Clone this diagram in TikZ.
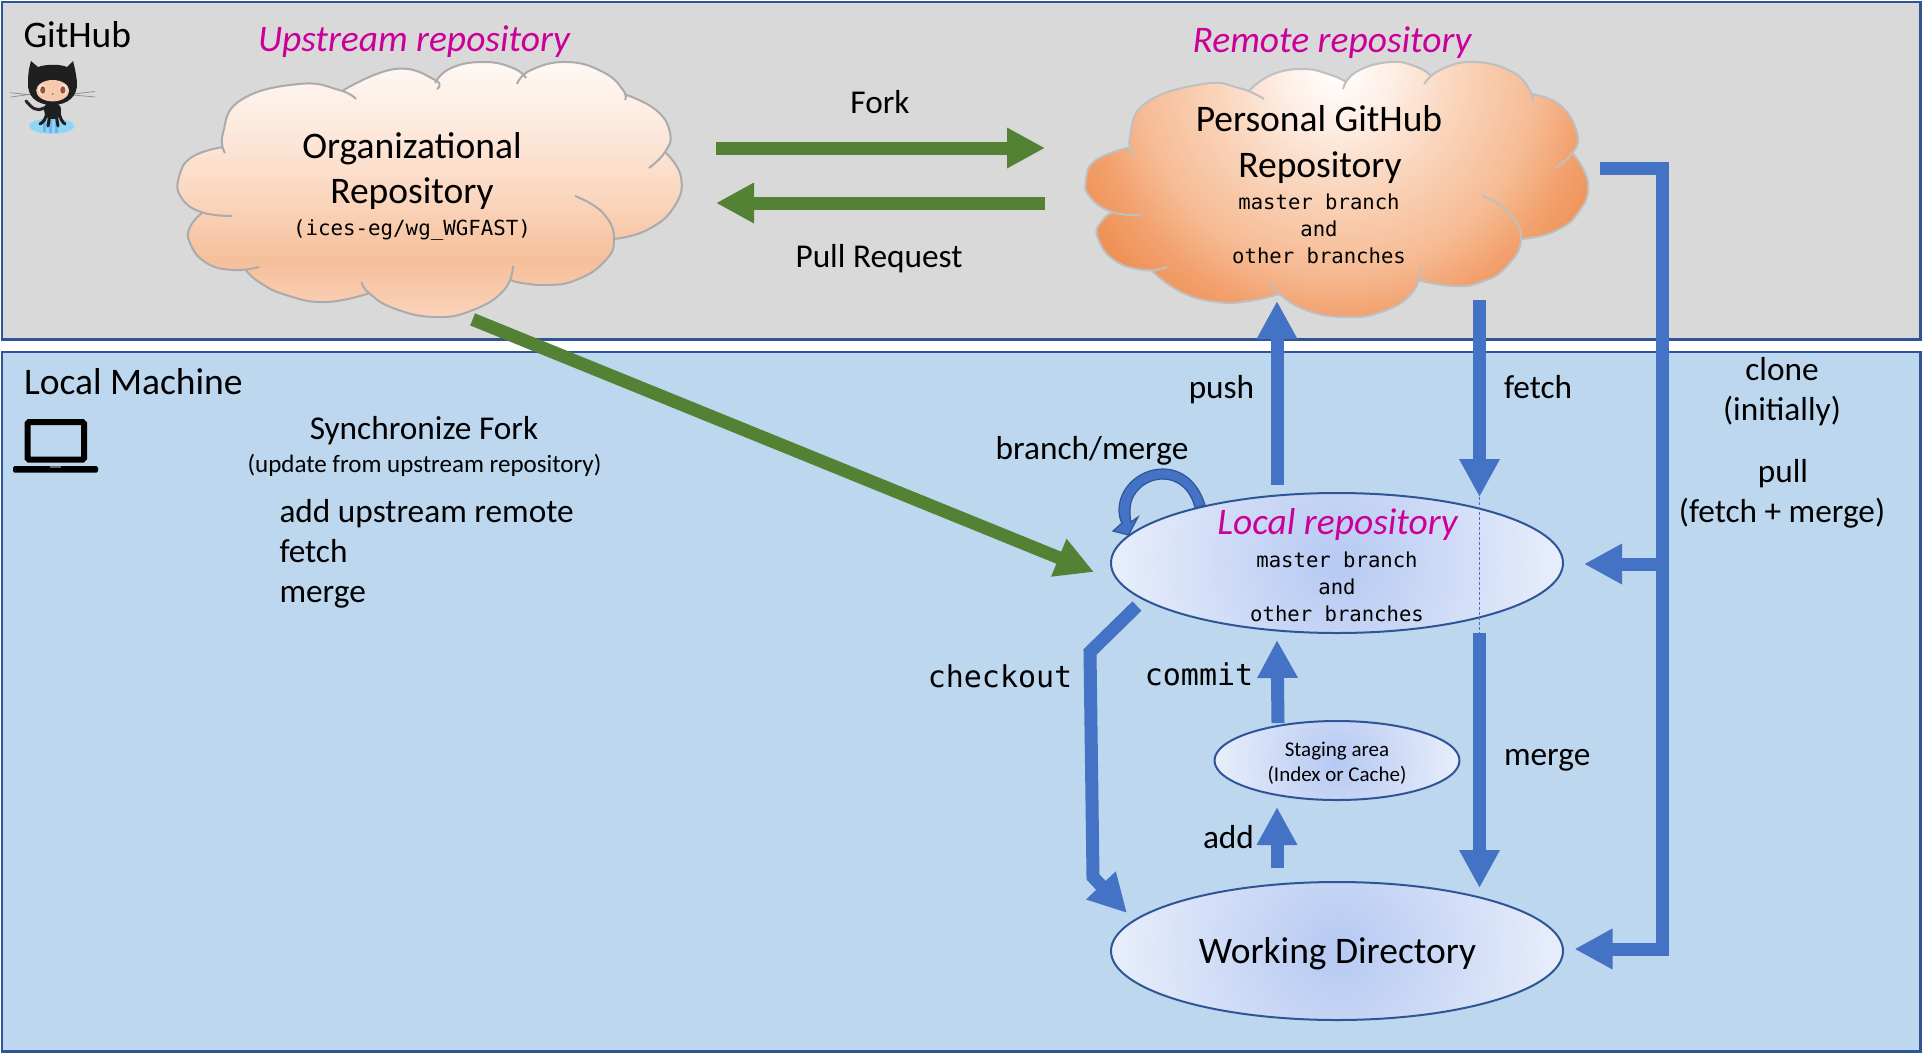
\documentclass[tikz,border=0pt]{standalone}
\usepackage{fontspec}
\setmainfont{Carlito}
\newfontfamily\monof{DejaVu Sans Mono}
\usetikzlibrary{arrows.meta,shapes.geometric,calc}
\definecolor{panelgray}{HTML}{D9D9D9}
\definecolor{panelblue}{HTML}{BDD7EE}
\definecolor{panelline}{HTML}{2F5597}
\definecolor{gitgreen}{HTML}{548235}
\definecolor{gitblue}{HTML}{4472C4}
\definecolor{magentatext}{HTML}{CC0099}
\definecolor{upA}{HTML}{FEF8F4}
\definecolor{upB}{HTML}{FDE9DD}
\definecolor{upC}{HTML}{FBD9C3}
\definecolor{upD}{HTML}{F5BF9A}
\definecolor{upE}{HTML}{FBD3BC}
\definecolor{remA}{HTML}{FFFFFF}
\definecolor{remB}{HTML}{FEF0E8}
\definecolor{remC}{HTML}{FAD5BC}
\definecolor{remD}{HTML}{F6BB94}
\definecolor{remE}{HTML}{F2A06C}
\definecolor{remF}{HTML}{EE8E4F}
\definecolor{ellIn}{HTML}{B6C9F2}
\definecolor{ellOut}{HTML}{E8EEFB}
\definecolor{catface}{HTML}{F4C9AC}
\definecolor{cateye}{HTML}{F5E6DC}
\definecolor{catiris}{HTML}{A0523C}
\definecolor{catwater}{HTML}{8FD6F6}
\definecolor{catstripe}{HTML}{6FB4EC}
\pgfdeclareverticalshading{upshade}{100bp}{color(0bp)=(upE); color(25bp)=(upE); color(36bp)=(upD); color(50bp)=(upC); color(62bp)=(upB); color(75bp)=(upA); color(100bp)=(upA)}
\pgfdeclareradialshading{remshade}{\pgfpoint{0bp}{0bp}}{color(0bp)=(remA); color(4.2bp)=(remB); color(10bp)=(remC); color(16.7bp)=(remD); color(20.8bp)=(remE); color(25bp)=(remF); color(50bp)=(remF)}
\newcommand{\sz}[1]{\fontsize{#1}{#1}\selectfont}
\newcommand{\cloudUp}[1]{%
plot[smooth,tension=.8] coordinates {(225,153)(223,133)(241,100)(299,84)(339,90)(356,99)} #1
plot[smooth,tension=.8] coordinates {(342,91)(395,69)(435,80)(437,89)} #1
plot[smooth,tension=.8] coordinates {(435,83)(451,68)(484,62)(513,68)(526,78)} #1
plot[smooth,tension=.8] coordinates {(517,84)(531,70)(567,62)(603,72)(623,90)(625,100)} #1
plot[smooth,tension=.8] coordinates {(624,94)(656,110)(670,133)(665,152)(649,168)} #1
plot[smooth,tension=.8] coordinates {(665,152)(681,177)(674,207)(647,230)(614,239)} #1
plot[smooth,tension=.8] coordinates {(575,196)(603,213)(614,240)(603,263)(576,280)(549,285)(522,283)(511,280)} #1
plot[smooth,tension=.8] coordinates {(513,266)(504,290)(473,310)(435,317)(393,308)(368,292)(362,282)} #1
plot[smooth,tension=.8] coordinates {(370,293)(326,302)(286,295)(259,282)(246,270)} #1
plot[smooth,tension=.8] coordinates {(259,267)(232,270)(205,262)(190,243)(190,227)(203,212)} #1
plot[smooth,tension=.8] coordinates {(232,216)(201,212)(181,197)(179,177)(192,157)(223,147)}}
\newcommand{\cloudRem}[1]{%
plot[smooth,tension=.8] coordinates {(1134,155)(1130,137)(1146,103)(1203,84)(1239,88)(1264,99)} #1
plot[smooth,tension=.8] coordinates {(1249,91)(1271,75)(1303,69)(1331,75)(1346,82)} #1
plot[smooth,tension=.8] coordinates {(1343,89)(1356,72)(1390,62)(1417,67)(1431,76)} #1
plot[smooth,tension=.8] coordinates {(1424,84)(1442,69)(1476,62)(1514,73)(1531,93)(1532,101)} #1
plot[smooth,tension=.8] coordinates {(1531,94)(1560,105)(1577,133)(1572.5,153)(1555,168)} #1
plot[smooth,tension=.8] coordinates {(1572.5,153)(1588,183)(1578,213)(1553,232)(1521,239)} #1
plot[smooth,tension=.8] coordinates {(1482.5,196)(1506,210)(1521,238)(1506,267)(1481,282)(1453,286)(1417,280)} #1
plot[smooth,tension=.8] coordinates {(1421,266)(1412,293)(1381,312)(1344,317)(1306,310)(1278,293)(1270,282)} #1
plot[smooth,tension=.8] coordinates {(1279,294)(1249,301)(1217,302)(1181,292)(1152,271)} #1
plot[smooth,tension=.8] coordinates {(1167,267)(1144,270)(1114,260)(1097.5,237)(1101,222)(1112,212)} #1
plot[smooth,tension=.8] coordinates {(1141,215)(1112,212)(1090,197)(1086,180)(1096,160)(1131,147)}}
\tikzset{
  txt/.style={anchor=base,inner sep=0pt,outer sep=0pt,text=black},
  txtl/.style={txt,anchor=base west},
  mono/.style={txt,font=\monof\sz{#1}},
  title/.style={txt,text=magentatext,font=\itshape\sz{37.5}},
  big/.style={font=\sz{37.5}},
  med/.style={font=\sz{33.3}},
  panel/.style={draw=panelline,line width=2.5pt},
  greenarrow/.style={draw=gitgreen,line width=13pt,-{Triangle[length=38pt,width=38pt]}},
  bluearrow/.style={draw=gitblue,line width=13pt,miter limit=10,-{Triangle[length=38pt,width=38pt]}},
  repoell/.style={ellipse,draw=panelline,line width=2pt,inner sep=0pt,outer sep=0pt,
    minimum width=#1,path picture={\shade[inner color=ellIn,outer color=ellOut]
    (path picture bounding box.center) circle (#1*0.5);}},
}
\begin{document}
\begin{tikzpicture}[x=1pt,y=-1pt]
\useasboundingbox (0,0) rectangle (1922,1053);
\fill[white] (0,0) rectangle (1922,1053);
% panels
\draw[panel,fill=panelgray] (2,2) rectangle (1920.5,339.5);
\draw[panel,fill=panelblue] (2,352) rectangle (1920.5,1051.5);
% clouds
\shade[shading=upshade] \cloudUp{--} -- cycle;
\draw[draw=black!33,line width=2pt] \cloudUp{};
\begin{scope}
  \clip \cloudRem{--} -- cycle;
  \shade[shading=remshade] (1337,70) circle (300);
\end{scope}
\draw[draw=black!25,line width=2pt] \cloudRem{};
% octocat
\fill[catwater] (51.7,126) ellipse (22.7 and 7.7);
\fill[catstripe] (43,120) rectangle (46,132) (49,120) rectangle (52,133) (55,120) rectangle (58,133);
\draw[black!45,line width=.7pt] (10,92.7) -- (32,95) (11,97) -- (32,94) (73,94) -- (95,91.5) (73,95) -- (95,97);
\draw[black!85,line width=3pt,line cap=round] (44,108) .. controls (36,112) and (32,108) .. (26,101);
\fill[black!88] (44,110) .. controls (42,100) and (62,100) .. (61,110) .. controls (61,116) and (60,119) .. (52,119) .. controls (46,119) and (45,116) .. (44,110) -- cycle;
\draw[black!88,line width=3pt,line cap=round] (47,112) .. controls (46,118) and (44,122) .. (40,124)
  (50,114) -- (48,126) (56,114) -- (58,126) (59,112) .. controls (60,118) and (62,122) .. (65,124);
\fill[black!88] (31,61) -- (38,67) .. controls (46,64) and (60,64) .. (67,67) -- (73,61)
  .. controls (75,68) and (76,74) .. (77,82) .. controls (78,96) and (68,105) .. (52.5,105)
  .. controls (36,105) and (27,96) .. (28,82) .. controls (28,74) and (29,68) .. (31,61) -- cycle;
\fill[catface] (52.7,90.7) ellipse (16.5 and 10.7);
\fill[cateye] (42.3,89.5) ellipse (4.2 and 5.5) (63.3,89.5) ellipse (4.2 and 5.5);
\fill[catiris] (42.8,90) ellipse (2.6 and 3.8) (62.8,90) ellipse (2.6 and 3.8);
\fill[catiris] (52.7,94) circle (.9);
% laptop
\draw[black,line width=6pt,rounded corners=1.5pt] (27.5,422) rectangle (84,459.5);
\fill[black,rounded corners=1.5pt] (13,466) rectangle (98,472.5);
\fill[black!60] (50,466) rectangle (61,467.5);
% named connector ends
\coordinate (upExit) at (472.6,319.4);
\coordinate (localEntry) at (1094,572);
\coordinate (forkS) at (716,148);   \coordinate (forkE) at (1045,148);
\coordinate (prS) at (1045,203);    \coordinate (prE) at (716,203);
\coordinate (pushS) at (1277,485);  \coordinate (pushE) at (1277,301);
\coordinate (fetchS) at (1479.5,300); \coordinate (fetchE) at (1479.5,497);
\coordinate (mergeS) at (1479.5,633); \coordinate (mergeE) at (1479.5,888);
\coordinate (commitS) at (1278,723); \coordinate (commitE) at (1277,640);
\coordinate (addS) at (1277,868);   \coordinate (addE) at (1277,807);
\coordinate (coS) at (1137,606);    \coordinate (coA) at (1090,652);
\coordinate (coB) at (1093,877);    \coordinate (coE) at (1127,913);
\coordinate (cloneS) at (1600,168.5); \coordinate (cloneA) at (1662,168.5);
\coordinate (cloneB) at (1662,949); \coordinate (cloneE) at (1574.5,949);
\coordinate (pullS) at (1662,564);  \coordinate (pullE) at (1584,564);
% arrows
\draw[greenarrow] (forkS) -- (forkE);
\draw[greenarrow] (prS) -- (prE);
\draw[greenarrow] (upExit) -- (localEntry);
\draw[bluearrow] (pushS) -- (pushE);
\draw[bluearrow] (fetchS) -- (fetchE);
\draw[bluearrow] (mergeS) -- (mergeE);
\draw[bluearrow] (commitS) -- (commitE);
\draw[bluearrow] (addS) -- (addE);
\draw[bluearrow] (coS) -- (coA) -- (coB) -- (coE);
\draw[bluearrow] (cloneS) -- (cloneA) -- (cloneB) -- (cloneE);
\draw[bluearrow] (pullS) -- (pullE);
% branch/merge loop
\filldraw[fill=gitblue,draw=panelline,line width=1.2pt,line join=miter]
  (1205,505) .. controls (1198,482) and (1182,469) .. (1163,469)
  .. controls (1139,469) and (1119,488) .. (1119,510)
  .. controls (1119,515) and (1120,520) .. (1122,523)
  -- (1113,531) -- (1128.5,535) -- (1138,517) -- (1131,522)
  .. controls (1130,518) and (1130,514) .. (1130,510)
  .. controls (1130,493) and (1145,479) .. (1163,479)
  .. controls (1178,479) and (1191,490) .. (1195,508) -- cycle;
% ellipses
\node[repoell=452pt,minimum height=140pt] (local) at (1337,563) {};
\node[repoell=245pt,minimum height=79pt] (staging) at (1337,760.5) {};
\node[repoell=452pt,minimum height=138pt] (wd) at (1337,951) {};
\draw[gitblue,line width=.8pt,dashed,dash pattern=on 3pt off 2pt] (fetchE) -- (mergeS);
% texts
\node[txtl,big] (tGitHub) at (23.5,47.5) {GitHub};
\node[title] (tUp) at (414,51) {Upstream repository};
\node[title] (tRem) at (1332,52) {Remote repository};
\node[title] (tLoc) at (1337.5,534) {Local repository};
\node[txt,big] (tOrg) at (412,158.5) {Organizational};
\node[txt,big] (tRepo1) at (412,203.5) {Repository};
\node[mono=20.8] (tIces) at (412,235.5) {(ices-eg/wg\_WGFAST)};
\node[txt,big] (tPers) at (1319,131.5) {Personal GitHub};
\node[txt,big] (tRepo2) at (1320,177.5) {Repository};
\node[mono=20.6] (tM1) at (1319,209) {master branch};
\node[mono=20.6] (tA1) at (1319,236) {and};
\node[mono=20.6] (tO1) at (1319,263) {other branches};
\node[txt,med] (tFork) at (880,113.5) {Fork};
\node[txt,med] (tPR) at (879,267.5) {Pull Request};
\node[txtl,big] (tLM) at (24,394.5) {Local Machine};
\node[txt,med] (tSync) at (424,439.5) {Synchronize Fork};
\node[txt,font=\sz{25}] (tUpd) at (424.5,472) {(update from upstream repository)};
\node[txtl,med] (tAddUp) at (279.5,522) {add upstream remote};
\node[txtl,med] (tFetch2) at (279.5,562) {fetch};
\node[txtl,med] (tMerge2) at (279.5,602) {merge};
\node[txt,med] (tPush) at (1221.5,398.5) {push};
\node[txtl,med] (tFetch) at (1504,398.5) {fetch};
\node[txt,med] (tBM) at (1092,459.5) {branch/merge};
\node[txt,med] (tClone) at (1782,380.5) {clone};
\node[txt,med] (tInit) at (1782,420.5) {(initially)};
\node[txt,med] (tPull) at (1783,482.5) {pull};
\node[txt,med] (tFM) at (1782,522.5) {(fetch + merge)};
\node[mono=20.6] (tM2) at (1337,567.5) {master branch};
\node[mono=20.6] (tA2) at (1337,594.5) {and};
\node[mono=20.6] (tO2) at (1337,621.5) {other branches};
\node[mono=30] (tCheckout) at (1000,687) {checkout};
\node[mono=30] (tCommit) at (1199,685) {commit};
\node[txt,med] (tAdd) at (1228.5,848) {add};
\node[txtl,med] (tMerge) at (1504,765) {merge};
\node[txt,font=\sz{21}] (tStag) at (1337,756) {Staging area};
\node[txt,font=\sz{21}] (tIdx) at (1337,781) {(Index or Cache)};
\node[txt,big] (tWD) at (1337.5,963) {Working Directory};
\end{tikzpicture}
\end{document}
